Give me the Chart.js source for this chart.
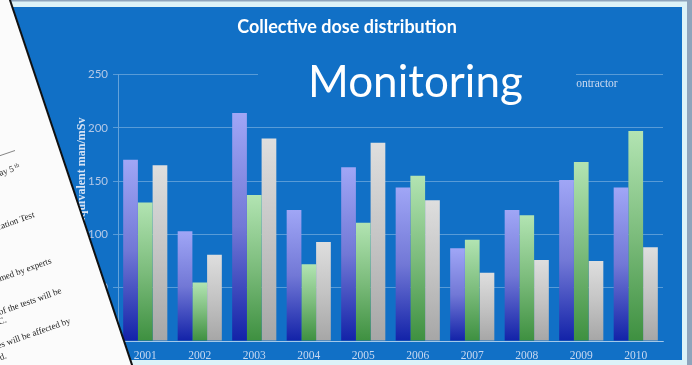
<!DOCTYPE html>
<html>
<head>
<meta charset="utf-8">
<title>Collective dose distribution</title>
<style>
  html, body { margin: 0; padding: 0; background: #dcf2f8; overflow: hidden; }
  canvas { display: block; }
</style>
</head>
<body>
<canvas id="doseChart" width="692" height="365"></canvas>
<script src="https://cdn.jsdelivr.net/npm/chart.js@4/dist/chart.umd.min.js"></script>
<script>
(function () {
    'use strict';

    var chartTitle = 'Collective dose distribution';
    var axisTitle = 'Equivalent man/mSv';
    var years = ['2001', '2002', '2003', '2004', '2005', '2006', '2007', '2008', '2009', '2010'];
    var seriesNames = ['Staff', 'Visitors', 'Contractor'];
    var staffDose = [170, 103, 214, 123, 163, 144, 87, 123, 151, 144];
    var visitorDose = [130, 55, 137, 72, 111, 155, 95, 118, 168, 197];
    var contractorDose = [165, 81, 190, 93, 186, 132, 64, 76, 75, 88];
    var yMin = 0, yMax = 250, yStep = 50;

    var panelBlue = '#1170c6';

    // each bar gets its own top-to-bottom fade
    function barFill(stops) {
        return function (ctx) {
            var chart = ctx.chart;
            if (!chart.chartArea || typeof ctx.raw !== 'number') {
                return stops[0];
            }
            var y = chart.scales.y;
            var top = y.getPixelForValue(ctx.raw);
            var base = y.getPixelForValue(0);
            var g = chart.ctx.createLinearGradient(0, top, 0, base);
            for (var i = 0; i < stops.length; i++) {
                g.addColorStop(i / (stops.length - 1), stops[i]);
            }
            return g;
        };
    }

    function drawSlantedLine(c, text, x, y, font) {
        c.save();
        c.translate(x, y);
        c.rotate(-0.34);
        c.font = font || '9px "Liberation Serif"';
        c.textAlign = 'right';
        c.textBaseline = 'alphabetic';
        c.fillText(text, 0, 0);
        c.restore();
    }

    var slide = {
        id: 'slide',
        beforeDraw: function (chart) {
            var c = chart.ctx;
            c.save();
            c.fillStyle = '#dcf2f8';
            c.fillRect(0, 0, 692, 365);
            c.fillStyle = '#8ea4bc';
            c.fillRect(0, 0, 692, 1.5);
            c.fillRect(687, 0, 5, 365);
            c.fillStyle = panelBlue;
            c.fillRect(0, 7, 682, 353);
            c.restore();
        },
        afterDraw: function (chart) {
            var c = chart.ctx;
            var area = chart.chartArea;
            c.save();

            // axis title, read bottom to top
            c.save();
            c.translate(81.5, area.top + 43);
            c.rotate(-Math.PI / 2);
            c.font = 'bold 12px "Liberation Serif"';
            c.fillStyle = '#d6e2f4';
            c.textAlign = 'right';
            c.textBaseline = 'middle';
            c.fillText(axisTitle, 0, 0);
            c.restore();

            // legend entry
            c.font = '11.5px "Liberation Serif"';
            c.fillStyle = '#cddaf0';
            c.textAlign = 'left';
            c.textBaseline = 'middle';
            c.fillText(seriesNames[2], 568.5, 84);

            // heading box laid over the plot
            c.fillStyle = panelBlue;
            c.fillRect(258, 44, 318, 66);
            c.fillStyle = '#ffffff';
            c.font = '44px Lato';
            c.textBaseline = 'alphabetic';
            c.fillText('Monitoring', 308, 97);

            // paper sheet on the left
            c.beginPath();
            c.moveTo(-5, -5);
            c.lineTo(8.5, -5);
            c.lineTo(133.5, 370);
            c.lineTo(-5, 370);
            c.closePath();
            c.fillStyle = '#fbfbfb';
            c.fill();
            c.beginPath();
            c.moveTo(9.3, -2);
            c.lineTo(132.7, 367);
            c.lineWidth = 2;
            c.strokeStyle = '#111111';
            c.stroke();

            c.strokeStyle = '#666666';
            c.lineWidth = 0.8;
            c.beginPath();
            c.moveTo(-4, 157);
            c.lineTo(15, 150.5);
            c.stroke();

            c.fillStyle = '#262626';
            drawSlantedLine(c, 'to be completed by Friday 5', 14.5, 171);
            drawSlantedLine(c, 'th', 19.5, 166.5, '6px "Liberation Serif"');
            drawSlantedLine(c, 'Characterization Test', 35, 217);
            drawSlantedLine(c, 'The work will be performed by experts', 52, 263);
            drawSlantedLine(c, 'The results of the tests will be', 62, 293);
            drawSlantedLine(c, 'reported to the ETC.', 7, 322);
            drawSlantedLine(c, 'The objectives will be affected by', 71, 323);
            drawSlantedLine(c, 'once approved.', 7, 358);

            c.restore();
        }
    };

    new Chart(document.getElementById('doseChart'), {
        type: 'bar',
        data: {
            labels: years,
            datasets: [{
                label: seriesNames[0],
                data: staffDose,
                backgroundColor: barFill(['#a0a6f6', '#7278d6', '#1222a8'])
            }, {
                label: seriesNames[1],
                data: visitorDose,
                backgroundColor: barFill(['#b2e4b2', '#7cbc7c', '#3e9040'])
            }, {
                label: seriesNames[2],
                data: contractorDose,
                backgroundColor: barFill(['#dedede', '#c4c4c4', '#a6a6a6'])
            }]
        },
        options: {
            responsive: false,
            animation: false,
            layout: { padding: { left: 31, right: 29, top: 0, bottom: 2 } },
            datasets: { bar: { categoryPercentage: 0.81, barPercentage: 1 } },
            plugins: {
                legend: { display: false },
                tooltip: { enabled: false },
                title: {
                    display: true,
                    text: chartTitle,
                    color: '#ffffff',
                    font: { family: 'Lato', size: 18, weight: 'bold' },
                    padding: { top: 16, bottom: 37 }
                }
            },
            scales: {
                x: {
                    afterFit: function (scale) { scale.height = 22; },
                    grid: { color: 'rgba(0,0,0,0)', drawTicks: false },
                    border: { color: 'rgba(255,255,255,0.45)' },
                    ticks: {
                        color: '#c8d8f0',
                        font: { family: 'Liberation Serif', size: 11.5 },
                        padding: 8
                    }
                },
                y: {
                    min: yMin,
                    max: yMax,
                    afterFit: function (scale) { scale.width = 87; },
                    grid: { color: 'rgba(255,255,255,0.3)', tickLength: 5 },
                    border: { color: 'rgba(255,255,255,0.35)' },
                    ticks: {
                        stepSize: yStep,
                        color: '#b4c8e6',
                        font: { family: 'Lato', size: 11.5 },
                        padding: 5
                    }
                }
            }
        },
        plugins: [slide]
    });
})();
</script>
</body>
</html>
